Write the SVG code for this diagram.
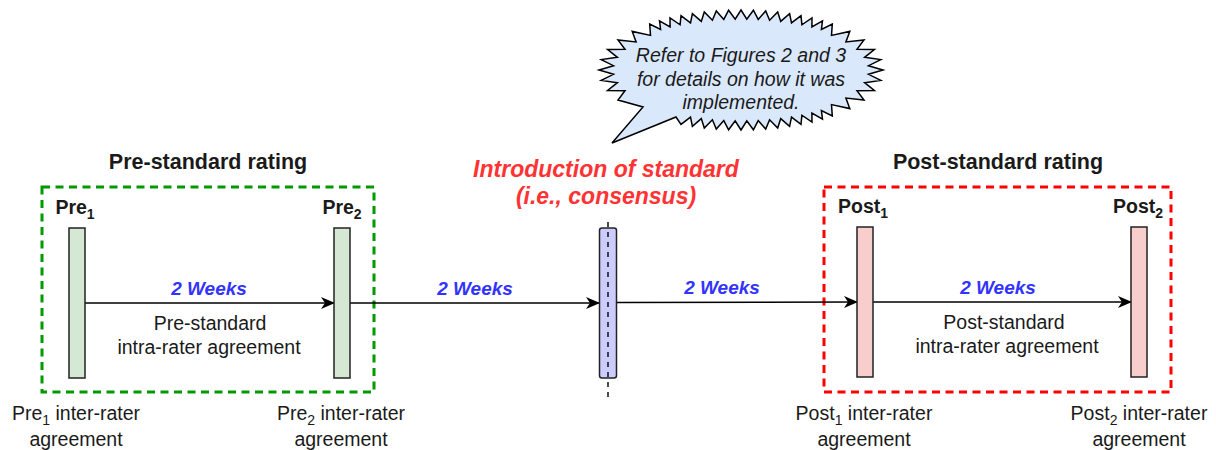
<svg xmlns="http://www.w3.org/2000/svg" width="1216" height="450" viewBox="0 0 1216 450">
<style>
text{font-family:"Liberation Sans",Arial,sans-serif;fill:#1a1a1a}
.t{font-size:19.5px;text-anchor:middle}
.b{font-weight:bold}
.wk{font-size:19px;font-weight:bold;font-style:italic;fill:#3333ff;text-anchor:middle}
.ttl{font-size:21.5px;font-weight:bold;text-anchor:middle}
.red{font-size:23px;font-weight:bold;font-style:italic;fill:#ff3333;text-anchor:middle}
.bar{stroke:#222;stroke-width:1.5}
.g{fill:#d5e8d4}
.p{fill:#f8cecc}
.conn{stroke:#000;stroke-width:1.6;fill:none;marker-end:url(#ah)}
</style>
<defs>
<marker id="ah" viewBox="0 0 14 12" refX="13" refY="6" markerWidth="14" markerHeight="12" markerUnits="userSpaceOnUse" orient="auto">
<path d="M0,0 L14,6 L0,12 L4,6 Z" fill="#000"/>
</marker>
</defs>
<rect width="1216" height="450" fill="#fff"/>

<g id="pre-group">
<rect x="42" y="187" width="332" height="205" fill="none" stroke="#009900" stroke-width="3" stroke-dasharray="8 5.5"/>
<text class="ttl" x="208" y="169">Pre-standard rating</text>
</g>
<g id="post-group">
<rect x="824" y="187" width="347" height="205" fill="none" stroke="#ff0000" stroke-width="3" stroke-dasharray="8 5.5"/>
<text class="ttl" x="998" y="169">Post-standard rating</text>
</g>

<g id="connectors">
<line class="conn" x1="85" y1="303" x2="334" y2="303"/>
<line class="conn" x1="350" y1="303" x2="599" y2="303"/>
<line class="conn" x1="617" y1="302.5" x2="857" y2="302"/>
<line class="conn" x1="873" y1="302" x2="1131" y2="302"/>
<text class="wk" x="209" y="295">2 Weeks</text>
<text class="wk" x="475" y="295">2 Weeks</text>
<text class="wk" x="722" y="294">2 Weeks</text>
<text class="wk" x="998" y="294">2 Weeks</text>
<text class="t" x="210" y="330">Pre-standard</text>
<text class="t" x="209" y="354">intra-rater agreement</text>
<text class="t" x="1004" y="329">Post-standard</text>
<text class="t" x="1007" y="353">intra-rater agreement</text>
</g>

<g id="pre1">
<rect class="bar g" x="69" y="228" width="16" height="150"/>
<text class="t b" x="75" y="214">Pre<tspan font-size="14" dy="5">1</tspan></text>
<text class="t" x="76" y="420">Pre<tspan font-size="14" dy="5">1</tspan><tspan dy="-5"> inter-rater</tspan></text>
<text class="t" x="76" y="446">agreement</text>
</g>
<g id="pre2">
<rect class="bar g" x="334" y="228" width="16" height="150"/>
<text class="t b" x="342" y="214">Pre<tspan font-size="14" dy="5">2</tspan></text>
<text class="t" x="341" y="420">Pre<tspan font-size="14" dy="5">2</tspan><tspan dy="-5"> inter-rater</tspan></text>
<text class="t" x="341" y="446">agreement</text>
</g>
<g id="standard">
<rect x="599.5" y="228" width="17" height="150" rx="2.5" fill="#ccccff" stroke="#222" stroke-width="1.5"/>
<line x1="608" y1="222" x2="608" y2="399" stroke="#111" stroke-width="1.5" stroke-dasharray="5 5"/>
<text class="red" x="606" y="177">Introduction of standard</text>
<text class="red" x="606" y="204">(i.e., consensus)</text>
</g>
<g id="post1">
<rect class="bar p" x="857" y="227" width="16" height="150"/>
<text class="t b" x="863" y="213">Post<tspan font-size="14" dy="5">1</tspan></text>
<text class="t" x="864" y="420">Post<tspan font-size="14" dy="5">1</tspan><tspan dy="-5"> inter-rater</tspan></text>
<text class="t" x="864" y="446">agreement</text>
</g>
<g id="post2">
<rect class="bar p" x="1131" y="227" width="16" height="150"/>
<text class="t b" x="1138" y="213">Post<tspan font-size="14" dy="5">2</tspan></text>
<text class="t" x="1139" y="420">Post<tspan font-size="14" dy="5">2</tspan><tspan dy="-5"> inter-rater</tspan></text>
<text class="t" x="1139" y="446">agreement</text>
</g>

<g id="callout">
<path fill="#dae8fc" stroke="#000" stroke-width="1.5" stroke-linejoin="miter" d="M883,70 L868.5,74.3 L880.8,80.4 L864.6,82.7 L874.4,90.5 L857,90.7 L864,100 L845.9,98.1 L849.8,108.6 L831.5,104.6 L832.3,116 L821.4,110.5 L822.5,119.2 L811.9,113 L812,122 L801.9,115.2 L801,124.4 L791.5,117.1 L789.6,126.4 L780.7,118.6 L777.7,128 L769.6,119.8 L765.7,129.1 L758.2,120.6 L753.4,129.8 L746.8,120.9 L741,130 L735.2,120.9 L728.6,129.8 L723.8,120.6 L716.3,129.1 L712.4,119.8 L704.3,128 L701.3,118.6 L692.4,126.4 L690.5,117.1 L681,124.4 L676,117 L612,143 L643,107 L618,100 L625,90.7 L607.6,90.5 L617.4,82.7 L601.2,80.4 L613.5,74.3 L599,70 L613.5,65.7 L601.2,59.6 L617.4,57.3 L607.6,49.5 L625,49.3 L618,40 L636.1,41.9 L632.2,31.4 L650.5,35.4 L649.7,24 L660.6,29.5 L659.5,20.8 L670.1,27 L670,18 L680.1,24.8 L681,15.6 L690.5,22.9 L692.4,13.6 L701.3,21.4 L704.3,12 L712.4,20.2 L716.3,10.9 L723.8,19.4 L728.6,10.2 L735.2,19.1 L741,10 L746.8,19.1 L753.4,10.2 L758.2,19.4 L765.7,10.9 L769.6,20.2 L777.7,12 L780.7,21.4 L789.6,13.6 L791.5,22.9 L801,15.6 L801.9,24.8 L812,18 L811.9,27 L822.5,20.8 L821.4,29.5 L832.3,24 L831.5,35.4 L849.8,31.4 L845.9,41.9 L864,40 L857,49.3 L874.4,49.5 L864.6,57.3 L880.8,59.6 L868.5,65.7 Z"/>
<text class="t" font-style="italic" x="741" y="62">Refer to Figures 2 and 3</text>
<text class="t" font-style="italic" x="741" y="86">for details on how it was</text>
<text class="t" font-style="italic" x="741" y="109">implemented.</text>
</g>
</svg>
